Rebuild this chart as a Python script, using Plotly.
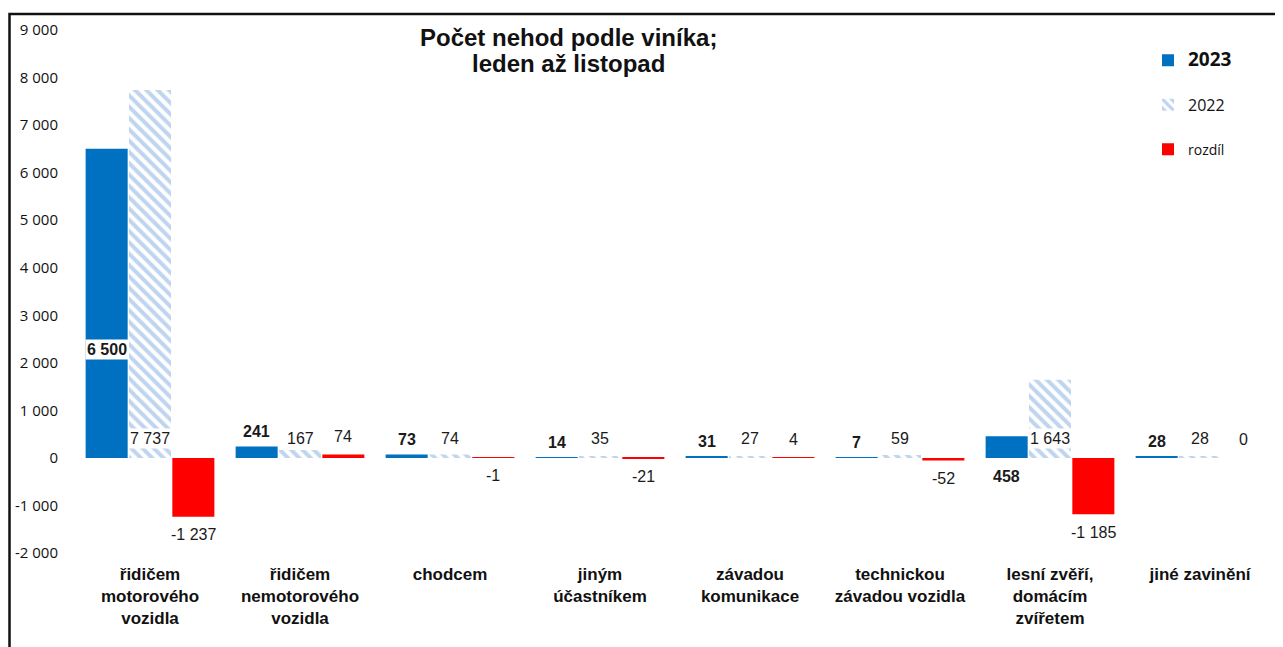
import plotly.graph_objects as go

categories = ["řidičem<br>motorového<br>vozidla", "řidičem<br>nemotorového<br>vozidla", "chodcem",
              "jiným<br>účastníkem", "závadou<br>komunikace", "technickou<br>závadou vozidla",
              "lesní zvěří,<br>domácím<br>zvířetem", "jiné zavinění"]
v2023 = [6500, 241, 73, 14, 31, 7, 458, 28]
v2022 = [7737, 167, 74, 35, 27, 59, 1643, 28]
rozdil = [-1237, 74, -1, -21, 4, -52, -1185, 0]
tick_vals = [-2000, -1000, 0, 1000, 2000, 3000, 4000, 5000, 6000, 7000, 8000, 9000]
tick_text = [f"{v:,}".replace(",", " ") for v in tick_vals]
title_lines = ["Počet nehod podle viníka;", "leden až listopad"]

pos2023 = ["inside", "out", "out", "out", "out", "out", "below", "out"]

BLUE = "#0070C0"
HATCH = "#80AADD"
RED = "#FF0000"
FONT = "Liberation Sans"

# page body has an 8px margin -> figure drawn 8px right/down
W, H = 1275, 639
L, T, PW, PH = 67, 22, 1200, 523
B = H - T - PH
R = W - L - PW

def py(fig_y):
    """figure pixel y -> paper y"""
    return (T + PH - fig_y) / PH

def px(fig_x):
    return (fig_x - L) / PW

def fmt(v):
    return f"{v:,}".replace(",", " ")

fig = go.Figure()
fig.add_bar(x=categories, y=v2023, name="<span style='font-size:19px'><b>2023</b></span>",
            marker=dict(color=BLUE, line=dict(width=0)), legendgroup="a")
fig.add_bar(x=categories, y=v2022, name="<span style='font-size:16px'>2022</span>",
            marker=dict(color="white", line=dict(width=0),
                        pattern=dict(shape="\\", fgcolor=HATCH, bgcolor="white", size=8, solidity=0.5)),
            legendgroup="b")
fig.add_bar(x=categories, y=rozdil, name="<span style='font-size:14px'>rozdíl</span>",
            marker=dict(color=RED, line=dict(width=0)), legendgroup="c")

off = 0.289
ann = []
for i, v in enumerate(v2023):
    p = pos2023[i]
    if p == "inside":
        ann.append(dict(x=i - off, y=v * 0.35, text=f"<b>{fmt(v)}</b>", yshift=0))
    elif p == "below":
        ann.append(dict(x=i - off, y=0, text=f"<b>{fmt(v)}</b>", yshift=-19))
    else:
        ann.append(dict(x=i - off, y=v, text=f"<b>{fmt(v)}</b>", yshift=15))
for i, v in enumerate(v2022):
    ann.append(dict(x=i, y=0, text=fmt(v), yshift=19))
for i, v in enumerate(rozdil):
    if v > 0:
        ann.append(dict(x=i + off, y=v, text=fmt(v), yshift=18))
    elif v < 0:
        ann.append(dict(x=i + off, y=v, text=fmt(v), yshift=-18))
    else:
        ann.append(dict(x=i + off, y=0, text=fmt(v), yshift=18))
for a in ann:
    a.update(xref="x", yref="y", showarrow=False, bgcolor="white",
             font=dict(family=FONT, size=16, color="#1a1a1a"), borderpad=1)

for k, line in enumerate(title_lines):
    ann.append(dict(xref="paper", yref="paper", x=px(560), y=py(30 + 25 * k),
                    xanchor="center", yanchor="middle", showarrow=False,
                    text=f"<b>{line}</b>", font=dict(family=FONT, size=24, color="#111")))

fig.update_layout(
    width=W, height=H,
    margin=dict(l=L, r=R, t=T, b=B),
    paper_bgcolor="white", plot_bgcolor="white",
    barmode="group", bargap=0.133, bargroupgap=0.03,
    showlegend=True,
    legend=dict(x=px(1140), y=py(36), xanchor="left", yanchor="top",
                tracegroupgap=22,
                font=dict(family="Open Sans", size=15, color="#111"),
                bgcolor="rgba(0,0,0,0)", traceorder="grouped"),
    annotations=ann,
    shapes=[
        dict(type="rect", xref="paper", yref="paper",
             x0=px(1.5), x1=px(W + 20), y0=py(H + 20), y1=py(6),
             line=dict(color="#111", width=2.5), layer="above"),
    ],
)
fig.update_xaxes(showgrid=False, zeroline=False, showline=False, ticks="",
                 ticklabelstandoff=9,
                 tickfont=dict(family=FONT, size=17, color="#111", weight="bold"), tickangle=0)
fig.update_yaxes(range=[-2000, 9000], tickvals=tick_vals, ticktext=tick_text,
                 showgrid=False, zeroline=False, showline=False, ticks="",
                 ticklabelstandoff=16,
                 tickfont=dict(family="Open Sans", size=15, color="#111"))
fig.write_html("out.html")
